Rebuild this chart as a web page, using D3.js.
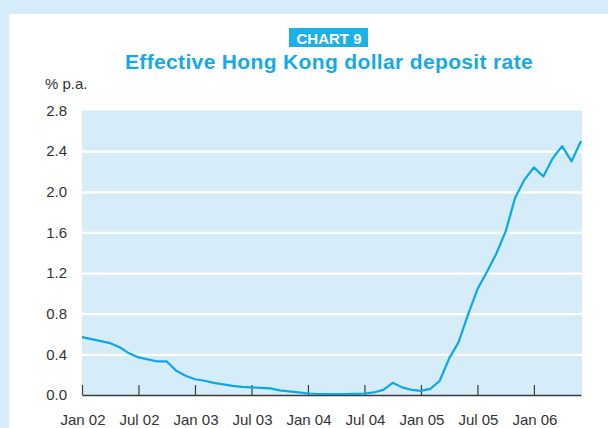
<!DOCTYPE html>
<html>
<head>
<meta charset="utf-8">
<script src="https://cdn.jsdelivr.net/npm/d3@7"></script>
<style>
  body { margin: 0; background: #d6edf9; }
  svg { display: block; font-family: "Liberation Sans", Arial, sans-serif; }
</style>
</head>
<body>
<svg class="chart9"></svg>
<script>
// months counted from Jan 02
var rates = [
    0.57, 0.55, 0.53, 0.51, 0.47, 0.41, 0.37, 0.35, 0.33, 0.33, 0.24, 0.19,
    0.155, 0.14, 0.12, 0.105, 0.09, 0.08, 0.075, 0.07, 0.065, 0.045, 0.035, 0.025,
    0.015, 0.01, 0.01, 0.01, 0.01, 0.012, 0.015, 0.025, 0.05, 0.12, 0.075, 0.05,
    0.04, 0.06, 0.14, 0.36, 0.52, 0.79, 1.04, 1.21, 1.39, 1.61, 1.94, 2.12,
    2.24, 2.15, 2.33, 2.45, 2.30, 2.50
];
var xTickMonths = [0, 6, 12, 18, 24, 30, 36, 42, 48];
var xTickLabels = ["Jan 02", "Jul 02", "Jan 03", "Jul 03", "Jan 04", "Jul 04", "Jan 05", "Jul 05", "Jan 06"];
var yTicks = [0, 0.4, 0.8, 1.2, 1.6, 2.0, 2.4, 2.8];

var width = 608,
    height = 428;

var chart = d3.select(".chart9")
    .attr("width", width)
    .attr("height", height);

// white panel inside the light blue frame
chart.append("rect")
    .attr("x", 9)
    .attr("y", 14)
    .attr("width", width)
    .attr("height", height)
    .style("fill", "#ffffff");

// badge + title
chart.append("rect")
    .attr("x", 289)
    .attr("y", 28)
    .attr("width", 79)
    .attr("height", 19)
    .style("fill", "#1cb0e6");
chart.append("text")
    .attr("x", 329)
    .attr("y", 44)
    .attr("text-anchor", "middle")
    .style("font-size", "15px")
    .style("font-weight", "bold")
    .style("fill", "#ffffff")
    .text("CHART 9");
chart.append("text")
    .attr("x", 329)
    .attr("y", 68.5)
    .attr("text-anchor", "middle")
    .style("font-size", "21px")
    .style("font-weight", "bold")
    .style("letter-spacing", "0.35px")
    .style("fill", "#14aae6")
    .text("Effective Hong Kong dollar deposit rate");

chart.append("text")
    .attr("x", 45)
    .attr("y", 89)
    .style("font-size", "15px")
    .style("fill", "#333333")
    .text("% p.a.");

var x = d3.scaleLinear()
    .domain([0, rates.length - 1])
    .range([82, 581]);

var y = d3.scaleLinear()
    .domain([0, 2.8])
    .range([395, 110.5]);

chart.append("rect")
    .attr("x", x(0))
    .attr("y", y(2.8))
    .attr("width", x(rates.length - 1) - x(0) + 1)
    .attr("height", y(0) - y(2.8))
    .style("fill", "#d6edf9");

// white gridlines
var grid = d3.axisRight(y)
    .tickValues(yTicks.filter(function (d) { return d > 0 && d < 2.8; }))
    .tickFormat("")
    .tickSize(x(rates.length - 1) - x(0) + 1);

chart.append("g")
    .attr("class", "grid")
    .attr("transform", "translate(" + x(0) + ",0)")
    .call(grid)
    .call(function (g) {
        g.select(".domain").remove();
        g.selectAll("line").style("stroke", "#ffffff").style("stroke-width", 2.2);
    });

// y labels
var yAxis = d3.axisLeft(y)
    .tickValues(yTicks)
    .tickSize(0)
    .tickPadding(0)
    .tickFormat(d3.format(".1f"));

chart.append("g")
    .attr("class", "yAxis")
    .attr("transform", "translate(67,0)")
    .call(yAxis)
    .call(function (g) {
        g.select(".domain").remove();
        g.selectAll("text")
            .style("font-size", "15px")
            .style("font-family", "Liberation Sans, Arial, sans-serif")
            .style("fill", "#333333");
    });

// x axis with inward ticks
var xAxis = d3.axisTop(x)
    .tickValues(xTickMonths)
    .tickSize(10)
    .tickSizeOuter(0)
    .tickFormat("");

chart.append("g")
    .attr("class", "xAxis")
    .attr("transform", "translate(0," + y(0) + ")")
    .call(xAxis)
    .call(function (g) {
        g.select(".domain").style("stroke", "#3a3a3a").style("stroke-width", 1.5);
        g.selectAll("line").style("stroke", "#3a3a3a").style("stroke-width", 1.2);
    });

chart.selectAll(".xlabel")
    .data(xTickMonths)
    .enter()
    .append("text")
    .attr("class", "xlabel")
    .attr("x", function (d) { return x(d) + 1; })
    .attr("y", 424.5)
    .attr("text-anchor", "middle")
    .style("font-size", "15px")
    .style("fill", "#333333")
    .text(function (d, i) { return xTickLabels[i]; });

var line = d3.line()
    .x(function (d, i) { return x(i); })
    .y(function (d) { return y(d); });

chart.append("path")
    .datum(rates)
    .attr("d", line)
    .style("fill", "none")
    .style("stroke", "#0aa8e8")
    .style("stroke-width", 2.2)
    .style("stroke-linejoin", "round");
</script>
</body>
</html>
